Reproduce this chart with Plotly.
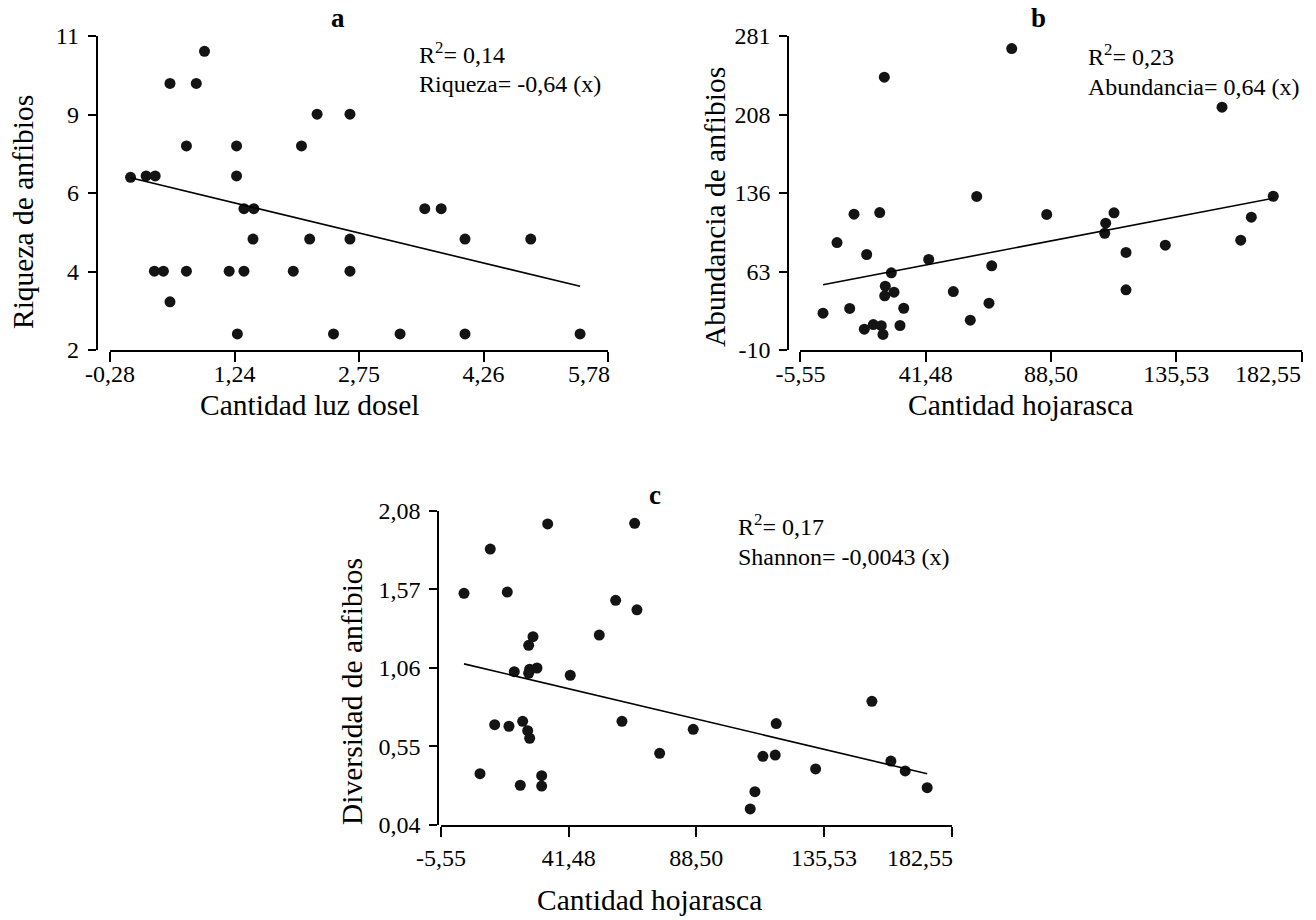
import numpy as np
import plotly.graph_objects as go

# ---------------- data ----------------
# Panel a: canopy light vs amphibian richness
luz_dosel = [-0.03, 0.16, 0.27, 0.87, 0.45, 0.77, 0.65, 1.26, 1.26, 1.35, 1.47, 1.46,
             0.26, 0.37, 0.65, 1.17, 1.35, 0.45, 1.27, 2.24, 2.64, 2.05, 2.15, 2.64,
             1.95, 2.64, 2.44, 3.55, 3.75, 4.04, 4.84, 3.25, 4.04, 5.44]
riqueza = [6.95, 6.99, 6.99, 10.56, 9.64, 9.64, 7.85, 7.85, 6.99, 6.05, 6.05, 5.18,
           4.26, 4.26, 4.26, 4.26, 4.26, 3.38, 2.46, 8.76, 8.76, 7.85, 5.18, 5.18,
           4.26, 4.26, 2.46, 6.05, 6.05, 5.18, 5.18, 2.46, 2.46, 2.46]

# Panel b: leaf litter vs amphibian abundance
hojarasca_b = [73.75, 25.94, 60.62, 14.57, 24.21, 8.19, 19.33, 42.60, 28.57, 66.25,
               26.31, 29.58, 26.09, 51.84, 2.93, 12.95, 33.22, 65.23, 58.21, 18.43,
               21.81, 24.81, 31.83, 25.45, 152.68, 171.93, 86.89, 112.15, 109.03,
               108.66, 163.68, 116.65, 131.40, 159.70, 116.65]
abundancia = [269.4, 242.8, 132.3, 115.9, 117.4, 89.6, 78.5, 73.9, 61.5, 68.0,
              49.1, 43.6, 40.2, 44.2, 24.1, 28.5, 28.7, 33.4, 17.6, 9.3,
              13.6, 12.5, 12.7, 4.4, 215.0, 132.5, 115.6, 117.1, 107.5,
              98.2, 113.1, 80.4, 87.1, 91.8, 45.8]

# Panel c: leaf litter vs Shannon diversity
hojarasca_c = [2.92, 12.60, 18.86, 33.74, 65.78, 58.78, 66.62, 28.33, 26.74, 52.74,
               21.44, 26.74, 27.11, 29.80, 42.06, 14.22, 19.49, 24.53, 26.38, 27.11,
               61.10, 8.81, 23.65, 31.53, 31.53, 74.98, 87.35, 153.16, 117.92, 113.02,
               117.55, 132.43, 160.15, 165.42, 173.52, 110.07, 108.34]
shannon = [1.544, 1.831, 1.552, 1.994, 1.998, 1.498, 1.437, 1.262, 1.206, 1.273,
           1.035, 1.025, 1.051, 1.059, 1.012, 0.691, 0.681, 0.713, 0.652, 0.603,
           0.713, 0.373, 0.298, 0.360, 0.293, 0.505, 0.661, 0.843, 0.698, 0.486,
           0.494, 0.404, 0.455, 0.391, 0.282, 0.256, 0.144]

# fitted lines as drawn (intercept, slope)
fit_a = (6.92, -0.569)
fit_b = (49.1, 0.4745)
fit_c = (1.098, -0.00418)

# axis ticks
xtick_a = [-0.28, 1.235, 2.75, 4.265, 5.78]
xtext_a = ["-0,28", "1,24", "2,75", "4,26", "5,78"]
ytick_a = [2, 4.25, 6.5, 8.75, 11]
ytext_a = ["2", "4", "6", "9", "11"]

xtick_h = [-5.55, 41.475, 88.5, 135.525, 182.55]
xtext_h = ["-5,55", "41,48", "88,50", "135,53", "182,55"]
ytick_b = [-10, 62.75, 135.5, 208.25, 281]
ytext_b = ["-10", "63", "136", "208", "281"]
ytick_c = [0.04, 0.55, 1.06, 1.57, 2.08]
ytext_c = ["0,04", "0,55", "1,06", "1,57", "2,08"]

# ---------------- figure ----------------
W, H = 1316, 920
FONT = "Liberation Serif, Times New Roman, serif"

def px(v):
    return v / W

def py(v):
    return (H - v) / H

fig = go.Figure()

def add_panel(xs, ys, fit, xa, ya):
    fig.add_trace(go.Scatter(x=xs, y=ys, mode="markers", xaxis=xa, yaxis=ya,
                             marker=dict(size=11, color="#141414"), showlegend=False,
                             hoverinfo="skip"))
    lx = np.array([min(xs), max(xs)])
    ly = fit[0] + fit[1] * lx
    fig.add_trace(go.Scatter(x=lx, y=ly, mode="lines", xaxis=xa, yaxis=ya,
                             line=dict(color="black", width=1.6), showlegend=False,
                             hoverinfo="skip"))

add_panel(luz_dosel, riqueza, fit_a, "x", "y")
add_panel(hojarasca_b, abundancia, fit_b, "x2", "y2")
add_panel(hojarasca_c, shannon, fit_c, "x3", "y3")

axis_common = dict(showline=True, linecolor="black", linewidth=2, ticks="outside",
                   tickcolor="black", tickwidth=2, showgrid=False, zeroline=False,
                   automargin=False,
                   tickfont=dict(family=FONT, size=24, color="black"), tickmode="array")

def xaxis(dom, rng, tv, tt, anchor, standoff):
    # the last label is right-aligned to the axis end (drawn as an annotation)
    tt = list(tt[:-1]) + [""]
    return dict(axis_common, domain=dom, range=rng, tickvals=tv, ticktext=tt,
                anchor=anchor, ticklen=10, ticklabelstandoff=standoff)

def yaxis(dom, rng, tv, tt, pos):
    return dict(axis_common, domain=dom, range=rng, tickvals=tv, ticktext=tt,
                anchor="free", position=pos, ticklen=8, ticklabelstandoff=4)

ya_dom = [py(350), py(36)]
yc_dom = [py(825), py(510.7)]

fig.update_layout(
    template="none",
    width=W, height=H,
    margin=dict(l=0, r=0, t=0, b=0, autoexpand=False),
    paper_bgcolor="white", plot_bgcolor="white",
    font=dict(family=FONT, color="black"),
    xaxis=xaxis([px(110), px(608)], [-0.28, 5.78], xtick_a, xtext_a, "y", -9),
    yaxis=yaxis(ya_dom, [2, 11], ytick_a, ytext_a, px(96.7)),
    xaxis2=xaxis([px(800.4), px(1301.6)], [-5.55, 182.55], xtick_h, xtext_h, "y2", -9),
    yaxis2=yaxis(ya_dom, [-10, 281], ytick_b, ytext_b, px(788.3)),
    xaxis3=xaxis([px(441), px(951.7)], [-5.55, 182.55], xtick_h, xtext_h, "y3", 0),
    yaxis3=yaxis(yc_dom, [0.04, 2.08], ytick_c, ytext_c, px(438.3)),
)

def ann(text, x, y, size=24, xanchor="left", bold=False, angle=0):
    if bold:
        text = "<b>" + text + "</b>"
    fig.add_annotation(text=text, x=px(x), y=py(y), xref="paper", yref="paper",
                       xanchor=xanchor, yanchor="middle", showarrow=False,
                       textangle=angle, font=dict(family=FONT, size=size, color="black"))

# last x tick labels, right-aligned at the axis end as in the reference
ann(xtext_a[-1], 612, 374, xanchor="right")
ann(xtext_h[-1], 1303, 374, xanchor="right")
ann(xtext_h[-1], 955, 858, xanchor="right")

# panel letters
ann("a", 338, 18, size=27, xanchor="center", bold=True)
ann("b", 1038, 18, size=27, xanchor="center", bold=True)
ann("c", 655, 495, size=27, xanchor="center", bold=True)

# equations
ann("R<sup>2</sup>= 0,14", 417, 53)
ann("Riqueza= -0,64 (x)", 417, 84)
ann("R<sup>2</sup>= 0,23", 1086, 55)
ann("Abundancia= 0,64 (x)", 1086, 87)
ann("R<sup>2</sup>= 0,17", 736, 525)
ann("Shannon= -0,0043 (x)", 736, 557)

# axis titles
TS = 29.5
ann("Cantidad luz dosel", 310, 405, size=TS, xanchor="center")
ann("Cantidad hojarasca", 1020, 405, size=TS, xanchor="center")
ann("Cantidad hojarasca", 649, 900, size=TS, xanchor="center")
ann("Riqueza de anfibios", 23, 212, size=TS, xanchor="center", angle=-90)
ann("Abundancia de anfibios", 715, 207, size=TS, xanchor="center", angle=-90)
ann("Diversidad de anfibios", 352, 692, size=TS, xanchor="center", angle=-90)

fig.write_html("out.html", post_script="document.body.style.margin='0';",
               config={"displayModeBar": False})
